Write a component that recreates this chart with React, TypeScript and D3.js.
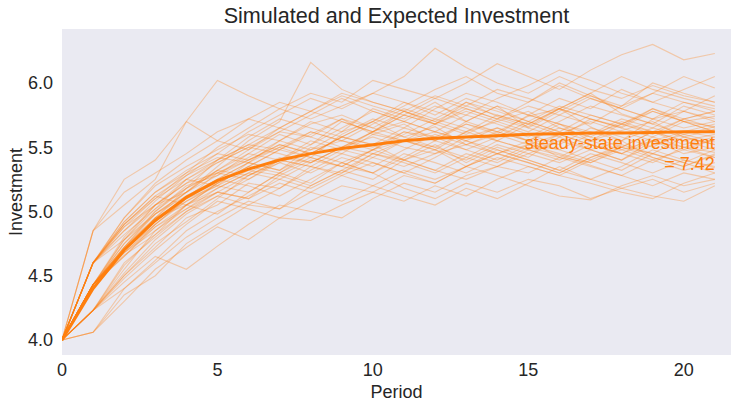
import React from "react";
import * as d3 from "d3";

const periods: number[] = Array.from({ length: 22 }, (_, i) => i);

const expected: number[] = [4.0, 4.40, 4.70, 4.93, 5.11, 5.24, 5.33, 5.40, 5.45, 5.49, 5.52, 5.55, 5.57, 5.58, 5.59, 5.60, 5.605, 5.61, 5.61, 5.615, 5.62, 5.62];

const simulated: number[][] = [
  [4.0, 4.43, 4.70, 4.95, 5.10, 5.30, 5.42, 5.55, 5.48, 5.62, 5.70, 5.58, 5.66, 5.52, 5.60, 5.75, 5.68, 5.55, 5.63, 5.70, 5.58, 5.64],
  [4.0, 4.60, 4.92, 5.15, 5.30, 5.42, 5.38, 5.55, 5.70, 5.62, 5.80, 5.72, 5.85, 5.70, 5.62, 5.74, 5.80, 5.66, 5.55, 5.72, 5.78, 5.70],
  [4.0, 4.23, 4.50, 4.72, 4.95, 5.05, 5.22, 5.18, 5.35, 5.30, 5.45, 5.40, 5.52, 5.38, 5.50, 5.42, 5.58, 5.48, 5.40, 5.55, 5.50, 5.46],
  [4.0, 4.43, 4.72, 5.00, 5.20, 5.28, 5.45, 5.60, 5.52, 5.70, 5.62, 5.78, 5.68, 5.85, 5.74, 5.66, 5.80, 5.92, 5.76, 5.68, 5.82, 5.75],
  [4.0, 4.85, 5.05, 5.25, 5.70, 5.55, 5.48, 5.65, 5.58, 5.72, 5.60, 5.68, 5.55, 5.70, 5.82, 5.65, 5.58, 5.72, 5.66, 5.80, 5.70, 5.62],
  [4.0, 4.06, 4.35, 4.50, 4.75, 4.90, 5.05, 5.02, 5.20, 5.32, 5.25, 5.40, 5.48, 5.35, 5.45, 5.55, 5.42, 5.38, 5.50, 5.45, 5.58, 5.52],
  [4.0, 4.60, 4.88, 5.10, 5.25, 5.20, 5.38, 5.32, 5.50, 5.45, 5.60, 5.55, 5.48, 5.62, 5.55, 5.68, 5.60, 5.52, 5.45, 5.58, 5.50, 5.56],
  [4.0, 4.43, 4.68, 4.85, 5.05, 5.22, 5.35, 5.30, 5.42, 5.60, 5.72, 5.65, 5.80, 5.92, 5.85, 5.75, 5.88, 5.80, 5.95, 5.85, 5.78, 5.90],
  [4.0, 4.23, 4.60, 4.80, 5.00, 5.15, 5.10, 5.28, 5.40, 5.35, 5.30, 5.45, 5.38, 5.30, 5.42, 5.35, 5.28, 5.40, 5.32, 5.45, 5.38, 5.30],
  [4.0, 4.43, 4.75, 4.98, 5.15, 5.35, 5.55, 5.70, 6.16, 5.95, 5.85, 5.78, 5.90, 5.82, 5.75, 5.68, 5.80, 5.72, 5.65, 5.78, 5.70, 5.66],
  [4.0, 4.60, 4.82, 5.02, 5.18, 5.30, 5.40, 5.50, 5.42, 5.35, 5.48, 5.40, 5.32, 5.45, 5.38, 5.50, 5.44, 5.36, 5.28, 5.40, 5.48, 5.42],
  [4.0, 4.43, 4.65, 4.90, 5.08, 5.20, 5.15, 5.30, 5.45, 5.58, 5.70, 5.82, 5.95, 6.05, 5.92, 5.85, 6.00, 5.90, 5.80, 5.92, 6.05, 5.96],
  [4.0, 4.23, 4.45, 4.65, 4.55, 4.73, 4.90, 5.05, 5.00, 4.95, 5.10, 5.22, 5.15, 5.28, 5.35, 5.30, 5.42, 5.35, 5.28, 5.20, 5.30, 5.25],
  [4.0, 4.60, 4.95, 5.20, 5.35, 5.48, 5.60, 5.55, 5.68, 5.75, 5.65, 5.58, 5.50, 5.62, 5.70, 5.78, 5.65, 5.58, 5.70, 5.62, 5.55, 5.60],
  [4.0, 4.43, 4.70, 4.92, 5.12, 5.25, 5.20, 5.12, 5.25, 5.38, 5.48, 5.55, 5.62, 5.55, 5.45, 5.52, 5.60, 5.70, 5.62, 5.55, 5.48, 5.56],
  [4.0, 4.85, 5.25, 5.40, 5.70, 6.02, 5.90, 5.80, 5.72, 5.82, 5.92, 5.85, 5.75, 5.88, 5.80, 5.70, 5.82, 5.75, 5.68, 5.80, 5.72, 5.78],
  [4.0, 4.43, 4.80, 5.05, 5.22, 5.30, 5.25, 5.40, 5.35, 5.48, 5.42, 5.55, 5.48, 5.40, 5.52, 5.45, 5.38, 5.48, 5.55, 5.42, 5.35, 5.44],
  [4.0, 4.23, 4.55, 4.85, 5.02, 5.18, 5.30, 5.42, 5.38, 5.50, 5.62, 5.75, 5.68, 5.80, 5.72, 5.85, 5.98, 5.88, 5.80, 5.72, 5.85, 5.78],
  [4.0, 4.60, 4.90, 5.12, 5.05, 4.98, 5.15, 5.30, 5.22, 5.38, 5.30, 5.18, 5.10, 5.22, 5.15, 5.25, 5.20, 5.10, 5.18, 5.25, 5.15, 5.22],
  [4.0, 4.43, 4.72, 4.95, 5.18, 5.40, 5.52, 5.65, 5.78, 5.70, 5.62, 5.75, 5.68, 5.60, 5.72, 5.82, 5.75, 5.88, 5.80, 5.72, 5.65, 5.70],
  [4.0, 4.43, 4.68, 4.88, 5.05, 5.15, 5.28, 5.38, 5.48, 5.55, 5.50, 5.62, 5.58, 5.48, 5.40, 5.52, 5.48, 5.60, 5.68, 5.62, 5.52, 5.58],
  [4.0, 4.60, 4.85, 5.08, 5.28, 5.45, 5.62, 5.75, 5.88, 5.80, 5.92, 6.05, 6.27, 6.12, 6.00, 5.92, 6.05, 5.95, 5.88, 5.98, 5.90, 5.85],
  [4.0, 4.06, 4.40, 4.62, 4.85, 5.00, 5.12, 5.25, 5.18, 5.30, 5.42, 5.35, 5.45, 5.52, 5.45, 5.38, 5.30, 5.42, 5.50, 5.62, 5.55, 5.48],
  [4.0, 4.43, 4.75, 5.00, 5.18, 5.32, 5.45, 5.40, 5.55, 5.48, 5.62, 5.70, 5.62, 5.75, 5.68, 5.60, 5.52, 5.65, 5.58, 5.50, 5.62, 5.68],
  [4.0, 4.23, 4.48, 4.70, 4.90, 5.08, 5.02, 4.95, 4.93, 5.05, 5.15, 5.08, 5.20, 5.12, 5.25, 5.35, 5.28, 5.22, 5.15, 5.10, 5.22, 5.30],
  [4.0, 4.60, 4.90, 5.10, 5.30, 5.50, 5.65, 5.80, 5.92, 5.85, 6.02, 5.95, 5.88, 6.00, 6.15, 6.05, 5.95, 6.10, 6.22, 6.30, 6.18, 6.23],
  [4.0, 4.43, 4.70, 4.90, 5.10, 5.20, 5.32, 5.28, 5.20, 5.32, 5.45, 5.38, 5.30, 5.42, 5.55, 5.48, 5.40, 5.52, 5.45, 5.38, 5.50, 5.42],
  [4.0, 4.43, 4.78, 5.02, 5.25, 5.38, 5.50, 5.62, 5.58, 5.50, 5.62, 5.55, 5.68, 5.78, 5.70, 5.62, 5.75, 5.68, 5.82, 5.92, 5.85, 5.80],
  [4.0, 4.60, 4.88, 5.05, 5.22, 5.38, 5.50, 5.45, 5.38, 5.50, 5.58, 5.50, 5.45, 5.58, 5.65, 5.55, 5.48, 5.40, 5.50, 5.42, 5.35, 5.45],
  [4.0, 4.23, 4.50, 4.75, 4.92, 5.10, 5.28, 5.40, 5.52, 5.65, 5.78, 5.70, 5.62, 5.55, 5.65, 5.58, 5.70, 5.82, 5.75, 5.68, 5.60, 5.66],
  [4.0, 4.43, 4.72, 4.98, 5.15, 5.28, 5.40, 5.52, 5.45, 5.58, 5.52, 5.40, 5.32, 5.25, 5.35, 5.48, 5.42, 5.55, 5.48, 5.40, 5.32, 5.38],
  [4.0, 4.85, 5.15, 5.30, 5.45, 5.62, 5.72, 5.65, 5.78, 5.90, 5.82, 5.75, 5.88, 5.80, 5.72, 5.65, 5.78, 5.90, 5.82, 6.00, 5.92, 5.85],
  [4.0, 4.43, 4.66, 4.82, 5.00, 5.12, 5.25, 5.38, 5.30, 5.42, 5.35, 5.48, 5.60, 5.52, 5.62, 5.55, 5.65, 5.58, 5.50, 5.62, 5.72, 5.65],
  [4.0, 4.60, 4.78, 4.98, 5.12, 5.25, 5.38, 5.50, 5.62, 5.55, 5.68, 5.80, 5.72, 5.65, 5.55, 5.48, 5.60, 5.52, 5.45, 5.55, 5.62, 5.58],
  [4.0, 4.23, 4.40, 4.60, 4.80, 4.95, 5.08, 5.02, 5.15, 5.28, 5.20, 5.12, 5.05, 5.18, 5.10, 5.22, 5.35, 5.25, 5.18, 5.12, 5.08, 5.20],
  [4.0, 4.43, 4.72, 4.95, 5.15, 5.32, 5.48, 5.62, 5.75, 5.88, 5.78, 5.70, 5.82, 5.75, 5.88, 5.98, 6.10, 6.02, 5.92, 5.85, 5.95, 6.05],
  [4.0, 4.60, 4.92, 5.15, 5.32, 5.45, 5.40, 5.52, 5.45, 5.38, 5.30, 5.42, 5.55, 5.68, 5.60, 5.52, 5.45, 5.38, 5.48, 5.55, 5.45, 5.50],
  [4.0, 4.43, 4.70, 4.93, 5.08, 5.22, 5.35, 5.48, 5.42, 5.35, 5.48, 5.62, 5.55, 5.48, 5.58, 5.70, 5.62, 5.55, 5.68, 5.78, 5.70, 5.62],
  [4.0, 4.23, 4.58, 4.82, 5.05, 5.22, 5.35, 5.48, 5.62, 5.55, 5.48, 5.60, 5.72, 5.85, 5.78, 5.70, 5.62, 5.75, 5.68, 5.60, 5.72, 5.78],
  [4.0, 4.43, 4.65, 4.88, 5.02, 5.15, 5.10, 5.22, 5.15, 5.08, 5.20, 5.32, 5.25, 5.35, 5.28, 5.20, 5.12, 5.09, 5.20, 5.28, 5.20, 5.25],
  [4.0, 4.60, 4.90, 5.12, 5.28, 5.40, 5.52, 5.48, 5.60, 5.72, 5.65, 5.78, 5.70, 5.62, 5.75, 5.68, 5.80, 5.72, 5.65, 5.58, 5.70, 5.74],
  [4.0, 4.43, 4.70, 4.95, 5.05, 5.18, 5.30, 5.25, 5.38, 5.50, 5.45, 5.55, 5.50, 5.42, 5.35, 5.45, 5.55, 5.48, 5.40, 5.52, 5.60, 5.54],
  [4.0, 4.23, 4.52, 4.78, 4.98, 5.12, 5.05, 5.18, 5.32, 5.45, 5.38, 5.30, 5.42, 5.55, 5.48, 5.40, 5.32, 5.45, 5.38, 5.30, 5.40, 5.35],
  [4.0, 4.43, 4.78, 5.05, 5.25, 5.40, 5.58, 5.72, 5.65, 5.58, 5.70, 5.85, 5.78, 5.70, 5.82, 5.75, 5.68, 5.60, 5.72, 5.65, 5.78, 5.72],
  [4.0, 4.60, 4.85, 5.05, 5.15, 5.32, 5.28, 5.40, 5.35, 5.28, 5.38, 5.30, 5.22, 5.35, 5.48, 5.40, 5.32, 5.25, 5.35, 5.48, 5.40, 5.34],
  [4.0, 4.43, 4.68, 4.90, 5.10, 5.25, 5.38, 5.32, 5.45, 5.58, 5.52, 5.65, 5.58, 5.68, 5.62, 5.55, 5.68, 5.62, 5.55, 5.65, 5.58, 5.52],
  [4.0, 4.06, 4.30, 4.55, 4.72, 4.88, 4.78, 4.95, 5.08, 5.20, 5.15, 5.28, 5.22, 5.35, 5.45, 5.38, 5.30, 5.42, 5.52, 5.45, 5.38, 5.48],
  [4.0, 4.60, 4.95, 5.22, 5.40, 5.55, 5.72, 5.85, 5.78, 5.92, 5.85, 5.78, 5.70, 5.82, 5.95, 5.88, 5.80, 5.92, 6.05, 5.95, 5.88, 5.82],
];

const xTicks: number[] = [0, 5, 10, 15, 20];
const yTicks: number[] = [4.0, 4.5, 5.0, 5.5, 6.0];

const title = "Simulated and Expected Investment";
const xLabel = "Period";
const yLabel = "Investment";
const annotation = ["steady-state investment", "= 7.42"];

const W = 737;
const H = 409;
const left = 62, right = 731, top = 29, bottom = 355;
const ORANGE = "#ff7f0e";
const TEXT = "#262626";
const FONT = "'Liberation Sans', Arial, sans-serif";

export default function App() {
  const x = d3.scaleLinear().domain([0, 21.52]).range([left, right]);
  const y = d3.scaleLinear().domain([3.883, 6.42]).range([bottom, top]);
  const line = d3
    .line<number>()
    .x((_, i) => x(periods[i]))
    .y((d) => y(d));

  return (
    <svg width={W} height={H} style={{ position: "absolute", left: 0, top: 0 }}>
      <rect x={0} y={0} width={W} height={H} fill="#ffffff" />
      <rect x={left} y={top} width={right - left} height={bottom - top} fill="#EAEAF2" />
      <defs>
        <clipPath id="plotclip">
          <rect x={left} y={top} width={right - left} height={bottom - top} />
        </clipPath>
      </defs>
      <g clipPath="url(#plotclip)">
        {simulated.map((s, i) => (
          <path
            key={i}
            d={line(s) || ""}
            fill="none"
            stroke={ORANGE}
            strokeOpacity={0.32}
            strokeWidth={1.1}
          />
        ))}
        <path d={line(expected) || ""} fill="none" stroke={ORANGE} strokeWidth={3} />
      </g>
      <text x={x(21)} y={149} textAnchor="end" fontFamily={FONT} fontSize={18} fill={ORANGE}>
        {annotation[0]}
      </text>
      <text x={x(21)} y={170} textAnchor="end" fontFamily={FONT} fontSize={18} fill={ORANGE}>
        {annotation[1]}
      </text>
      {xTicks.map((t) => (
        <text key={t} x={x(t)} y={376} textAnchor="middle" fontFamily={FONT} fontSize={18} fill={TEXT}>
          {t}
        </text>
      ))}
      {yTicks.map((t) => (
        <text key={t} x={53} y={y(t) + 6.5} textAnchor="end" fontFamily={FONT} fontSize={18} fill={TEXT}>
          {t.toFixed(1)}
        </text>
      ))}
      <text x={(left + right) / 2} y={398} textAnchor="middle" fontFamily={FONT} fontSize={18} fill={TEXT}>
        {xLabel}
      </text>
      <text
        transform={`translate(22, ${(top + bottom) / 2}) rotate(-90)`}
        textAnchor="middle"
        fontFamily={FONT}
        fontSize={18}
        fill={TEXT}
      >
        {yLabel}
      </text>
      <text x={(left + right) / 2} y={23} textAnchor="middle" fontFamily={FONT} fontSize={21.6} fill={TEXT}>
        {title}
      </text>
    </svg>
  );
}
